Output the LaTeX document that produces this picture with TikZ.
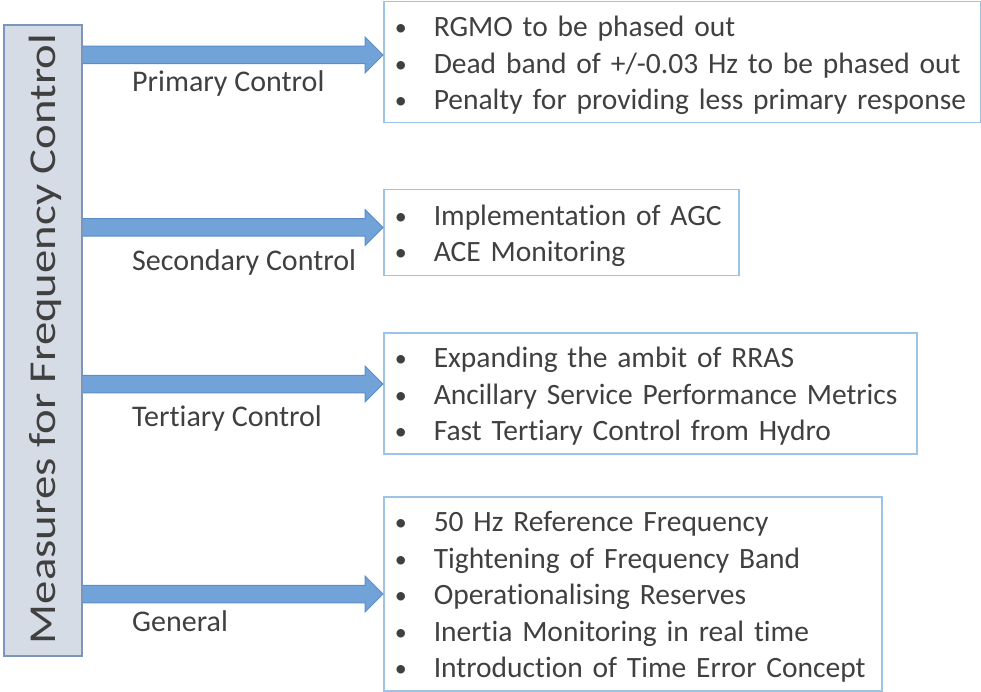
\documentclass[tikz,border=0pt]{standalone}
\usepackage{fontspec}
\setmainfont{Carlito}[Ligatures={NoCommon}]
\usetikzlibrary{calc}
\definecolor{inkdark}{HTML}{404040}
\definecolor{panelfill}{HTML}{D6DCE5}
\definecolor{paneledge}{HTML}{7C95BC}
\definecolor{arrowfill}{HTML}{71A3D8}
\definecolor{arrowedge}{HTML}{5C8DC6}
\definecolor{listedge}{HTML}{9DC3E6}
\newcommand{\bul}[1]{%
  \mbox{\makebox[40.5pt][l]{\hspace{1.5pt}\raisebox{1pt}{\fontsize{24}{24}\selectfont\textbullet}}%
    #1\rule[-7.25pt]{0pt}{36.5pt}}}
\newcommand{\fatarrow}[2]{%
  \filldraw[fill=arrowfill, draw=arrowedge, line width=1pt]
    ($(#1)+(0,-8.75)$) -- ($(#2)+(-18,-8.75)$) -- ($(#2)+(-18,-18)$) -- (#2)
    -- ($(#2)+(-18,18)$) -- ($(#2)+(-18,8.75)$) -- ($(#1)+(0,8.75)$);}

\begin{document}
\begin{tikzpicture}[x=1pt, y=-1pt, font=\fontsize{30}{36.5}\selectfont, text=inkdark,
  listbox/.style={draw=listedge, line width=1.5pt, fill=white, anchor=north west,
    inner xsep=9.5pt, inner ysep=0pt, align=left,
    font=\fontsize{29.5}{36.5}\selectfont}]
  \useasboundingbox (0,0) rectangle (981,692);
  \node[draw=paneledge, line width=1.5pt, fill=panelfill, minimum width=78pt,
    minimum height=631pt, inner sep=0pt] (panel) at (43,340.5) {};
  \node[rotate=90, xscale=1.23, font=\fontsize{38}{45}\selectfont, inner sep=0pt]
    (title) at (45.5,339) {Measures for Frequency Control};
  \node[listbox, text width=578pt, minimum height=121pt] (pbox) at (383,1)
    {\bul{RGMO to be phased out}\\ \bul{Dead band of +/-0.03 Hz to be phased out}\\
     \bul{Penalty for providing less primary response}};
  \node[listbox, text width=336pt, minimum height=86pt] (sbox) at (383,189)
    {\bul{Implementation of AGC}\\ \bul{ACE Monitoring}};
  \node[listbox, text width=514pt, minimum height=121pt] (tbox) at (383,332)
    {\bul{Expanding the ambit of RRAS}\\ \bul{Ancillary Service Performance Metrics}\\
     \bul{Fast Tertiary Control from Hydro}};
  \node[listbox, text width=479pt, minimum height=194pt] (gbox) at (383,496)
    {\bul{50 Hz Reference Frequency}\\ \bul{Tightening of Frequency Band}\\
     \bul{Operationalising Reserves}\\ \bul{Inertia Monitoring in real time}\\
     \bul{Introduction of Time Error Concept}};
  \foreach \bx/\ay/\lab/\by [count=\k] in {pbox/55/Primary Control/92,
      sbox/227.5/Secondary Control/270, tbox/384/Tertiary Control/426,
      gbox/594/General/631}{%
    \coordinate (tail\k) at (panel.east |- 0,\ay);
    \coordinate (tip\k) at (\bx.west |- 0,\ay);
    \fatarrow{tail\k}{tip\k}
    \node[anchor=base west, inner sep=0pt] (lab\k) at (132,\by) {\lab};}
\end{tikzpicture}
\end{document}
